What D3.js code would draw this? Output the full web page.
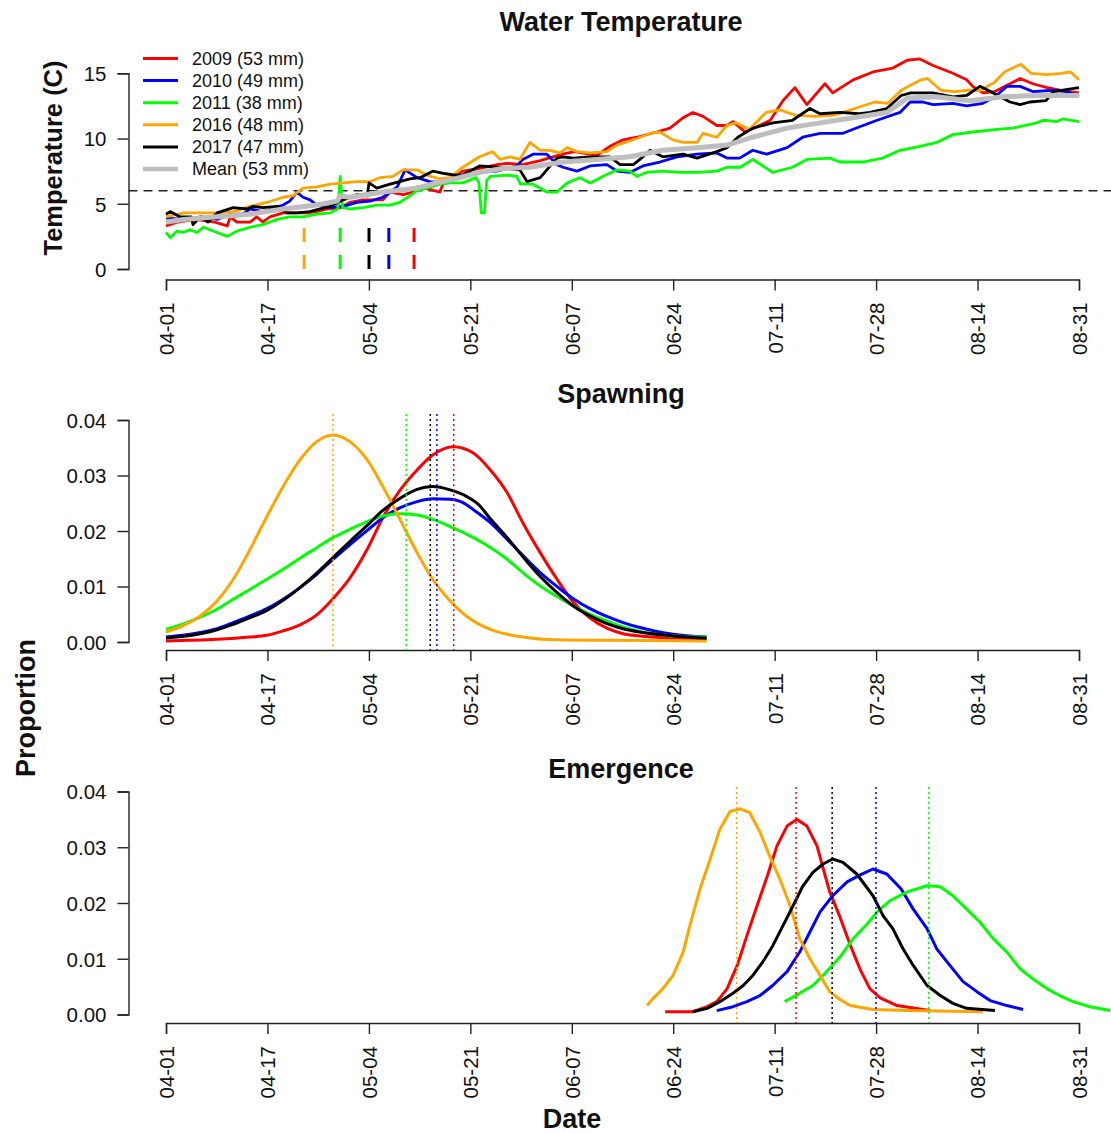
<!DOCTYPE html>
<html><head><meta charset="utf-8">
<script src="https://cdn.jsdelivr.net/npm/d3@7/dist/d3.min.js"></script>
<style>
body{margin:0;background:#fff}
text{font-family:"Liberation Sans",Arial,Helvetica,sans-serif;fill:#111}
</style>
</head><body>
<svg id="chart" width="1111" height="1133"></svg>
<script>
// ---------- DATA ----------
const tickDays   = [0, 16.89, 33.78, 50.67, 67.56, 84.44, 101.33, 118.22, 135.11, 152];
const tickLabels = ["04-01","04-17","05-04","05-21","06-07","06-24","07-11","07-28","08-14","08-31"];
const tempTicks = [0, 5, 10, 15];
const propTicks = [0, 0.01, 0.02, 0.03, 0.04];
const propTickLabels = ["0.00","0.01","0.02","0.03","0.04"];

const years  = ["2009","2010","2011","2016","2017"];
const colors = ["#FF0000","#0000FF","#00FF00","#FFA500","#000000"];
const legendLabels = ["2009 (53 mm)","2010 (49 mm)","2011 (38 mm)","2016 (48 mm)","2017 (47 mm)","Mean (53 mm)"];
const meanColor = "#BEBEBE";
const thresholdTemp = 6;

// water temperature, [day since 04-01, degrees C]
const temp2009 = [[0,3.3],[2,3.6],[5,3.8],[8,3.6],[10.2,3.3],[10.7,4.0],[11.8,3.6],[14,3.6],[15.1,4.0],[16.1,3.6],[17.3,4.0],[19.5,4.3],[23.5,4.3],[25.1,4.4],[26.8,4.6],[29,4.7],[30.6,5.1],[32.8,5.3],[36.1,5.3],[37.3,5.9],[39.5,5.7],[41.1,5.9],[41.8,6.3],[43.9,6.1],[45.6,5.9],[46.1,6.5],[49.4,7.5],[52,7.7],[55.1,8.0],[56.8,8.1],[59.4,8.0],[62.3,8.3],[66,8.8],[68,9.0],[71.7,8.7],[73.9,9.4],[76.1,9.9],[78.4,10.1],[81.7,10.5],[83.9,10.8],[86.1,11.6],[87.7,12.0],[89.4,11.7],[91.7,11.0],[93.4,11.0],[94.4,11.3],[96.4,10.5],[98.4,10.9],[100.6,11.4],[102.7,12.9],[104.7,13.9],[106.7,12.6],[109.7,14.2],[111,13.5],[114.4,14.5],[117.7,15.1],[121,15.4],[123.4,16.0],[125.5,16.1],[127.7,15.6],[131,15.0],[133.3,14.5],[134.3,14.0],[136,13.5],[138,13.6],[140.5,14.2],[142.2,14.6],[144.3,14.2],[146.7,13.9],[149,13.7],[152,13.5]];
const temp2010 = [[0,3.9],[3,3.8],[6,4.0],[8.5,3.8],[10.7,4.2],[12.8,4.2],[14,4.6],[16.1,4.4],[19.5,4.9],[20.6,5.2],[21.8,5.9],[22.8,5.5],[24,5.3],[25.1,4.9],[27.3,4.7],[29.5,4.8],[31.8,5.1],[34,5.2],[36.1,5.5],[38.5,6.3],[39.8,7.6],[41.8,7.0],[43.9,6.7],[46.8,6.6],[49.4,7.2],[52,7.4],[55.1,7.5],[58.4,7.9],[59.4,8.4],[61.1,8.8],[63.4,8.8],[65.1,8.0],[66.1,7.8],[68.4,7.5],[70.6,7.9],[73.4,8.0],[75.1,7.5],[77.2,7.4],[79.4,7.9],[82.2,8.2],[85.1,8.6],[88.4,8.8],[91.7,8.9],[93.4,8.5],[95.5,8.5],[97.7,9.1],[100,8.8],[103.4,9.3],[106,10.1],[108.9,10.4],[112.7,10.4],[115.5,10.9],[118.4,11.4],[122.2,12.0],[123.9,12.8],[126,12.8],[127.7,12.6],[131,12.7],[133.3,12.5],[136,12.7],[138,13.2],[140,14.0],[142.2,14.0],[144.3,13.6],[147.7,13.7],[150,13.6],[152,13.2]];
const temp2011 = [[0,2.8],[0.7,2.4],[1.8,2.9],[2.8,2.8],[4,3.0],[5.2,2.8],[6.2,3.2],[8.5,2.8],[10.2,2.5],[11.8,2.9],[14,3.2],[16.1,3.4],[18.5,3.8],[20.6,4.0],[22.8,4.0],[25.1,4.2],[27.3,4.3],[28.6,4.6],[29.0,7.1],[29.4,4.7],[30.6,4.6],[32.8,4.7],[35.1,4.9],[37.3,4.9],[38.9,5.1],[40.6,5.6],[41.8,6.0],[43.4,6.2],[45.6,6.5],[47.3,6.6],[49.4,6.6],[51.6,7.0],[52.1,6.6],[52.5,4.3],[53.0,4.3],[53.4,6.8],[54,7.1],[56.8,7.2],[58.4,7.1],[59,6.5],[61.1,6.5],[63.4,5.9],[65.1,5.9],[66.8,6.6],[68.9,7.0],[70.6,6.6],[72.8,7.1],[75.1,7.6],[77.2,7.5],[78.4,7.1],[80,7.4],[82.7,7.5],[85.6,7.4],[88.4,7.4],[91.7,7.5],[93.4,7.8],[95.6,7.8],[97.7,8.4],[101,7.4],[104.3,7.8],[106.7,8.4],[110.5,8.5],[112.2,8.2],[116,8.2],[119.3,8.5],[122.2,9.1],[125.5,9.4],[128.3,9.7],[131,10.3],[134.3,10.5],[138.3,10.7],[141,10.8],[145,11.2],[146,11.4],[148.3,11.3],[149.3,11.5],[152,11.3]];
const temp2016 = [[0,4.0],[3,4.3],[8.5,4.3],[11.2,4.4],[14,4.8],[16.8,5.1],[19.5,5.5],[21.1,5.6],[22.8,6.2],[25.1,6.3],[27.3,6.5],[29.5,6.6],[31.8,6.7],[34,6.7],[35.6,7.0],[37.8,7.1],[39.4,7.6],[41.8,7.6],[43.4,7.2],[45.6,6.9],[47.3,7.0],[49.4,7.8],[52.2,8.6],[54.4,9.0],[55.6,8.4],[57.3,8.6],[58.9,8.4],[60.6,9.7],[62.3,9.1],[63.9,9.1],[65.6,8.9],[66.8,9.3],[68.4,9.0],[70.6,8.9],[73.4,9.0],[75.1,9.5],[78.4,10.0],[80.6,10.4],[82.2,10.5],[84.4,9.9],[86.1,9.7],[88.4,9.7],[89.4,10.4],[91.7,10.1],[93.4,11.0],[94.9,11.2],[97.1,10.7],[99.9,12.0],[102.2,12.2],[104.7,11.8],[108,11.7],[111.3,11.8],[114.7,12.3],[118,12.8],[120.2,12.7],[122.4,13.7],[125.7,14.5],[126.8,14.6],[129,13.7],[131.3,13.6],[133.5,13.7],[135.6,13.7],[137.9,14.3],[139.6,15.1],[142.3,15.7],[144,15.0],[146.8,14.9],[149,15.0],[150.6,15.1],[152,14.5]];
const temp2017 = [[0,4.2],[0.7,4.4],[2.3,4.0],[4.2,4.0],[4.5,3.4],[5.7,4.0],[7,3.6],[8.5,4.3],[11.2,4.7],[13.5,4.6],[14.5,4.8],[16.1,4.7],[18.5,4.8],[20.1,4.3],[21.8,4.3],[23.9,4.4],[27.3,4.8],[29.5,5.3],[31.8,5.7],[33.5,5.6],[33.8,6.6],[35.1,6.2],[37.3,6.5],[38.9,6.7],[40.6,6.9],[42.3,7.0],[44.4,7.5],[46.6,7.3],[48.1,7.2],[49.4,7.2],[52.2,7.9],[55.1,7.8],[58.9,7.6],[60.1,6.7],[62.3,7.0],[63.4,7.6],[65.1,8.5],[66.1,8.6],[67.8,8.5],[70.6,8.6],[73.9,8.6],[75.6,8.0],[77.8,8.0],[78.9,8.4],[80.6,9.1],[82.7,8.6],[86.1,8.8],[88.4,8.5],[91.7,9.0],[93.4,9.3],[95.2,10.1],[97.7,10.8],[101,11.2],[104.3,11.4],[107.2,12.3],[108.9,11.9],[112.2,12.0],[115.5,11.9],[117.2,12.0],[120,12.3],[122.4,13.3],[124,13.5],[127.7,13.5],[131,13.2],[133.3,13.3],[135.5,14.0],[137.7,13.5],[140.5,12.8],[142.2,12.6],[143.8,12.8],[146.5,12.9],[147.7,13.6],[152,13.9]];
const tempMean = [[0,3.6],[3,3.8],[8.5,4.0],[14,4.2],[19.5,4.6],[25.1,4.9],[28.5,5.2],[29,5.6],[30.6,5.5],[36.1,5.9],[41.8,6.2],[45,6.6],[48,6.9],[52.2,7.4],[56,7.7],[60.6,7.8],[66.1,8.2],[71.7,8.4],[77.2,8.6],[82.7,9.1],[88.4,9.3],[93.4,9.5],[97.7,10.1],[103.4,10.8],[108.9,11.2],[114.4,11.6],[120,12.0],[123.4,13.1],[128.3,13.2],[133.8,12.9],[139.4,13.2],[144.9,13.3],[152,13.3]];

// day each year first reached the threshold (vertical markers)
const thresholdDays = [41.3, 37.1, 29.0, 23.0, 33.8];
const markerTop = 3.2;

// spawning proportion, [day, proportion]
const spawn2009 = [[0,0.0002],[8.5,0.0005],[14,0.0009],[16.8,0.0012],[19.5,0.002],[22.3,0.0031],[25.1,0.0049],[27.8,0.0078],[30.6,0.0115],[33.5,0.0167],[36.1,0.0224],[39,0.0274],[41.8,0.031],[44.4,0.0337],[47.8,0.0352],[51.1,0.0341],[54,0.031],[56.8,0.0269],[59.4,0.0215],[62.3,0.0161],[65.1,0.0113],[67.8,0.0072],[70.6,0.0043],[73.4,0.0025],[76.1,0.0015],[78.9,0.0011],[84.4,0.0007],[90,0.0005]];
const spawn2010 = [[0,0.0009],[2.8,0.0012],[5.7,0.0017],[8.5,0.0024],[11.2,0.0035],[14,0.0047],[16.8,0.006],[19.5,0.0077],[22.3,0.0098],[25.1,0.0122],[27.8,0.0149],[30.6,0.0175],[33.5,0.0201],[36.1,0.0224],[39,0.0242],[41.8,0.0253],[44.4,0.0258],[47.3,0.0257],[50.1,0.0247],[51.1,0.0239],[54,0.0215],[56.8,0.0185],[59.4,0.0156],[62.3,0.0125],[65.1,0.01],[67.8,0.0078],[70.6,0.006],[73.4,0.0046],[76.1,0.0035],[78.9,0.0026],[81.7,0.0019],[84.4,0.0014],[90,0.0009]];
const spawn2011 = [[0,0.0023],[2.8,0.0032],[5.7,0.0045],[8.5,0.0059],[11.2,0.0077],[14,0.0095],[16.8,0.0113],[19.5,0.0131],[22.3,0.0151],[25.1,0.017],[27.8,0.0188],[30.6,0.0203],[33.5,0.0217],[36.1,0.0227],[39,0.0231],[41.8,0.0229],[44.4,0.0221],[47.3,0.0208],[50.1,0.0194],[53,0.0177],[56.8,0.0149],[59.4,0.0125],[62.3,0.0101],[65.1,0.0082],[67.8,0.0065],[70.6,0.005],[73.4,0.0038],[76.1,0.0027],[78.9,0.0019],[81.7,0.0014],[84.4,0.0011],[90,0.0009]];
const spawn2016 = [[0,0.0018],[2.8,0.0029],[5.7,0.0047],[8.5,0.0074],[11.2,0.0113],[14,0.0167],[16.8,0.0226],[19.5,0.028],[22.3,0.0328],[25.1,0.0361],[27.8,0.0373],[30.6,0.0361],[33.5,0.0328],[36.1,0.028],[39,0.022],[41.8,0.0161],[44.4,0.0113],[47.3,0.0074],[50.1,0.0046],[53.9,0.0023],[59.4,0.0009],[65.1,0.0004],[73.4,0.0003],[90,0.0002]];
const spawn2017 = [[0,0.0007],[5.7,0.0015],[8.5,0.0022],[11.2,0.0032],[14,0.0044],[16.8,0.0057],[19.5,0.0075],[22.3,0.0098],[25.1,0.0124],[27.8,0.0152],[30.6,0.0181],[33.5,0.021],[36.1,0.0237],[39,0.0259],[41.8,0.0275],[44.4,0.028],[47.3,0.0274],[50.1,0.0262],[52,0.0248],[54,0.0222],[56.8,0.0188],[59.4,0.0154],[62.3,0.0118],[65.1,0.0089],[67.8,0.0065],[70.6,0.0047],[73.4,0.0033],[76.1,0.0024],[78.9,0.0018],[84.4,0.0011],[90,0.0007]];
const spawnPeakDays = [47.9, 45.1, 40.0, 27.8, 44.0];

// emergence proportion, [day, proportion]
const emerg2009 = [[83.1,0.0005],[87.7,0.0005],[90.1,0.0014],[91.7,0.0023],[93.4,0.0046],[95.1,0.0088],[96.7,0.0141],[98.4,0.0195],[100.1,0.0248],[101.7,0.0302],[103.4,0.0338],[105,0.035],[106.7,0.0338],[108.4,0.0302],[109.4,0.0262],[110.5,0.022],[112.2,0.0175],[113.9,0.0125],[115.6,0.008],[117.2,0.0046],[118.9,0.003],[121.7,0.0016],[126,0.0009],[127.2,0.0007]];
const emerg2010 = [[91.7,0.0007],[94.4,0.0014],[96.7,0.0023],[98.9,0.0034],[101,0.0052],[103.4,0.0077],[105.5,0.0112],[107.2,0.0148],[108.9,0.0184],[111,0.0213],[113.4,0.0238],[115.5,0.025],[117.7,0.0261],[120,0.0252],[122.4,0.0225],[124.4,0.0189],[126.7,0.0154],[128.3,0.0118],[130.5,0.0088],[132.7,0.0059],[135,0.0041],[137.2,0.0025],[140,0.0016],[142.7,0.0009]];
const emerg2011 = [[103,0.0023],[105.5,0.0038],[107.7,0.0052],[110,0.0077],[112.2,0.0103],[114.4,0.0136],[116.7,0.0162],[118.4,0.0184],[120.5,0.0204],[123.4,0.022],[126.7,0.0231],[128.9,0.0229],[131,0.0213],[133.3,0.0189],[135.5,0.0166],[137.7,0.0136],[140,0.0112],[142.2,0.0082],[144.3,0.0064],[146.7,0.0046],[148.8,0.0034],[151,0.0023],[153.8,0.0014],[157.2,0.0007]];
const emerg2016 = [[80.1,0.0016],[81.1,0.0029],[82.7,0.0046],[84.4,0.007],[86.1,0.0112],[87.2,0.0159],[88.9,0.0225],[90.6,0.0279],[92.2,0.0332],[93.9,0.0364],[95.6,0.0369],[97.2,0.0362],[98.9,0.0327],[100.5,0.0284],[102.2,0.0243],[103.9,0.0195],[105.5,0.0136],[107.2,0.01],[108.9,0.007],[110.5,0.0041],[112.2,0.0027],[113.9,0.0016],[117.7,0.0009],[123.4,0.0007],[136,0.0005]];
const emerg2017 = [[87.7,0.0005],[90.1,0.0011],[92.2,0.0023],[94.4,0.0038],[96.1,0.0052],[97.7,0.007],[99.4,0.0095],[101,0.0123],[102.7,0.0159],[104.4,0.0195],[106,0.023],[107.7,0.0255],[109.4,0.027],[111,0.0279],[112.7,0.0273],[115,0.0252],[117.7,0.0213],[119.4,0.0177],[121,0.0154],[122.7,0.0118],[124.4,0.0088],[126.7,0.0052],[128.9,0.0034],[131,0.002],[133.3,0.0011],[138,0.0007]];
const emergPeakDays = [104.9, 118.2, 127.0, 95.0, 110.9];

// ---------- DRAWING ----------
const svg = d3.select("#chart");
const x = d3.scaleLinear().domain([0, 152]).range([166, 1079]);
const plotLeft = 128.5;
const AXIS = "#222";

const panels = [
  {y: d3.scaleLinear().domain([0, 15]).range([269, 73.3]), axisY: 279.5, top: 60},
  {y: d3.scaleLinear().domain([0, 0.04]).range([642, 420]), axisY: 650, top: 414},
  {y: d3.scaleLinear().domain([0, 0.04]).range([1014.5, 791.5]), axisY: 1023, top: 787}
];

function drawXAxis(p) {
  const g = svg.append("g").attr("transform", `translate(0,${p.axisY})`)
    .call(d3.axisBottom(x).tickValues(tickDays).tickFormat((d, i) => tickLabels[i]).tickSizeOuter(0).tickSize(11));
  g.select(".domain").attr("stroke", AXIS).attr("stroke-width", 1.4);
  g.selectAll(".tick line").attr("stroke", AXIS).attr("stroke-width", 1.4);
  g.selectAll(".tick text")
    .attr("transform", "rotate(-90)")
    .attr("text-anchor", "end")
    .attr("x", -23).attr("y", 0).attr("dy", "0.36em")
    .style("font-size", "20.5px").attr("fill", "#111");
}
function drawYAxis(p, ticks, labels) {
  const g = svg.append("g").attr("transform", `translate(${plotLeft},0)`)
    .call(d3.axisLeft(p.y).tickValues(ticks).tickFormat((d, i) => labels[i]).tickSizeOuter(0).tickSize(11).tickPadding(11));
  g.select(".domain").attr("stroke", AXIS).attr("stroke-width", 1.4);
  g.selectAll(".tick line").attr("stroke", AXIS).attr("stroke-width", 1.4);
  g.selectAll(".tick text").style("font-size", "20.5px").attr("fill", "#111").attr("dy", "0.36em");
}

// Panel 1: water temperature
const p1 = panels[0];
drawXAxis(p1);
drawYAxis(p1, tempTicks, tempTicks.map(String));
svg.append("line")
  .attr("x1", plotLeft).attr("x2", 1111)
  .attr("y1", p1.y(thresholdTemp)).attr("y2", p1.y(thresholdTemp))
  .attr("stroke", "#222").attr("stroke-width", 1.4).attr("stroke-dasharray", "9,6");

const tempSeries = [temp2009, temp2010, temp2011, temp2016, temp2017];
const line1 = d3.line().x(d => x(d[0])).y(d => p1.y(d[1]));
tempSeries.forEach((s, i) => {
  svg.append("path").attr("d", line1(s)).attr("fill", "none")
    .attr("stroke", colors[i]).attr("stroke-width", 2.8).attr("stroke-linejoin", "round");
});
svg.append("path").attr("d", line1(tempMean)).attr("fill", "none")
  .attr("stroke", meanColor).attr("stroke-width", 5).attr("stroke-linejoin", "round");

thresholdDays.forEach((d, i) => {
  svg.append("line").attr("x1", x(d)).attr("x2", x(d))
    .attr("y1", p1.y(0)).attr("y2", p1.y(markerTop))
    .attr("stroke", colors[i]).attr("stroke-width", 3).attr("stroke-dasharray", "14,13");
});

// legend
const legY0 = 58.5, legStep = 22.1;
legendLabels.forEach((lab, i) => {
  const yy = legY0 + i * legStep;
  svg.append("line").attr("x1", 143).attr("x2", 178).attr("y1", yy).attr("y2", yy)
    .attr("stroke", i < 5 ? colors[i] : meanColor).attr("stroke-width", i < 5 ? 3 : 4.5);
  svg.append("text").attr("x", 192).attr("y", yy).attr("dy", "0.36em")
    .style("font-size", "18px").attr("fill", "#222").text(lab);
});

// Panel 2: spawning
const p2 = panels[1];
drawXAxis(p2);
drawYAxis(p2, propTicks, propTickLabels);
const line2 = d3.line().x(d => x(d[0])).y(d => p2.y(d[1])).curve(d3.curveMonotoneX);
[spawn2009, spawn2010, spawn2011, spawn2016, spawn2017].forEach((s, i) => {
  svg.append("path").attr("d", line2(s)).attr("fill", "none")
    .attr("stroke", colors[i]).attr("stroke-width", 3).attr("stroke-linejoin", "round");
});
spawnPeakDays.forEach((d, i) => {
  svg.append("line").attr("x1", x(d)).attr("x2", x(d)).attr("y1", p2.top).attr("y2", p2.axisY)
    .attr("stroke", colors[i]).attr("stroke-width", 1.5).attr("stroke-dasharray", "2,3");
});

// Panel 3: emergence
const p3 = panels[2];
drawXAxis(p3);
drawYAxis(p3, propTicks, propTickLabels);
const line3 = d3.line().x(d => x(d[0])).y(d => p3.y(d[1]));
[emerg2009, emerg2010, emerg2011, emerg2016, emerg2017].forEach((s, i) => {
  svg.append("path").attr("d", line3(s)).attr("fill", "none")
    .attr("stroke", colors[i]).attr("stroke-width", 3).attr("stroke-linejoin", "round");
});
emergPeakDays.forEach((d, i) => {
  svg.append("line").attr("x1", x(d)).attr("x2", x(d)).attr("y1", p3.top).attr("y2", p3.axisY)
    .attr("stroke", colors[i]).attr("stroke-width", 1.5).attr("stroke-dasharray", "2,3");
});

// titles and axis labels
function bold(txt, xx, yy, size, rot) {
  const t = svg.append("text").attr("text-anchor", "middle").style("font-size", size + "px")
    .style("font-weight", "bold").attr("fill", "#000").text(txt);
  if (rot) t.attr("transform", `translate(${xx},${yy}) rotate(-90)`);
  else t.attr("x", xx).attr("y", yy);
}
bold("Water Temperature", 621, 31, 27);
bold("Spawning", 621, 403, 27);
bold("Emergence", 621, 778, 27);
bold("Date", 572, 1128, 27);
bold("Temperature (C)", 62, 158, 25.5, true);
bold("Proportion", 35, 708, 27, true);
</script>
</body></html>
